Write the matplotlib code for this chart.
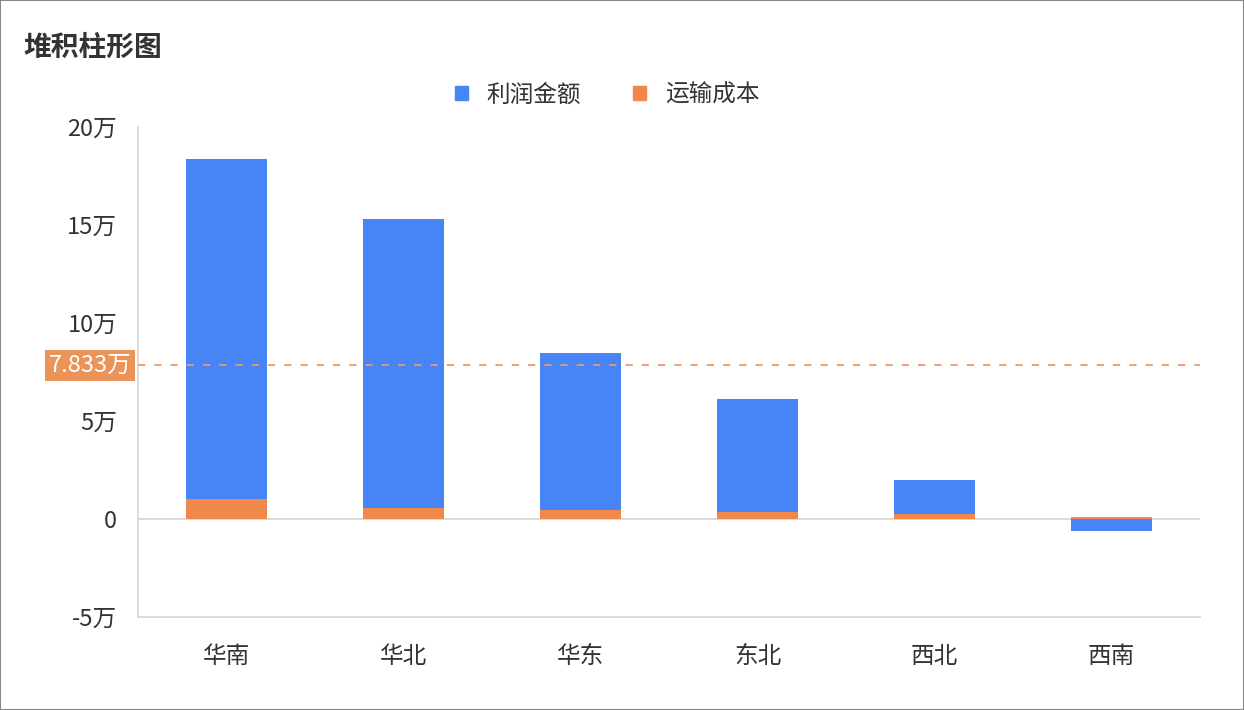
import numpy as np
import matplotlib.pyplot as plt
from matplotlib.patches import Rectangle, Patch

plt.rcParams['font.family'] = ['Noto Sans CJK SC', 'DejaVu Sans']

regions = ['华南', '华北', '华东', '东北', '西北', '西南']
profit = [17.35, 14.77, 8.01, 5.76, 1.74, -0.63]   # 万
shipping = [1.00, 0.56, 0.46, 0.36, 0.26, 0.10]    # 万
yticks = [-5, 0, 5, 10, 15, 20]

blue = '#4784F6'
orange = '#F0884A'

profit = np.array(profit)
shipping = np.array(shipping)
avg = profit.mean()

fig = plt.figure(figsize=(12.44, 7.10), dpi=100)
ax = fig.add_axes([138 / 1244, 93 / 710, 1062 / 1244, 490 / 710])

x = np.arange(len(regions))
w = 0.452
ax.bar(x, shipping, w, color=orange, zorder=3)
bottoms = np.where(profit >= 0, shipping, 0)
ax.bar(x, profit, w, bottom=bottoms, color=blue, zorder=3)

ax.set_xlim(-0.5, len(regions) - 0.5)
ax.set_ylim(-5, 20)
ax.set_yticks(yticks)
ax.set_yticklabels([f'{t}万' if t != 0 else '0' for t in yticks])
ax.set_xticks(x)
ax.set_xticklabels(regions)
ax.tick_params(axis='both', length=0, labelsize=17, colors='#333333')
ax.tick_params(axis='y', pad=15)
ax.tick_params(axis='x', pad=20)

for s in ['top', 'right']:
    ax.spines[s].set_visible(False)
for s in ['left', 'bottom']:
    ax.spines[s].set_color('#d4d4d4')
    ax.spines[s].set_linewidth(1.2)
ax.axhline(0, color='#d4d4d4', lw=1.2, zorder=2)

# average line
ax.axhline(avg, color='#EE9966', lw=1.3, ls=(0, (4, 5)), zorder=4)
ax.text(-0.006, avg, f'{avg:.3f}万', transform=ax.get_yaxis_transform(),
        ha='right', va='center', fontsize=17, color='white',
        bbox=dict(boxstyle='square,pad=0.15', fc='#EB9459', ec='none'))

fig.text(23 / 1244, 1 - 48 / 710, '堆积柱形图', fontsize=20, fontweight='bold',
         color='#333333', va='center', ha='left')

handles = [Patch(color=blue, label='利润金额'), Patch(color=orange, label='运输成本')]
fig.legend(handles=handles, loc='center', bbox_to_anchor=(607 / 1244, 1 - 95 / 710),
           ncol=2, frameon=False, fontsize=17, handlelength=0.55, handleheight=0.55,
           columnspacing=2.2, handletextpad=0.8, labelcolor='#333333')

fig.patches.append(Rectangle((0, 0), 1, 1, transform=fig.transFigure, fill=False,
                             ec='#888888', lw=1.5))

fig.savefig('out.png', dpi=100)
